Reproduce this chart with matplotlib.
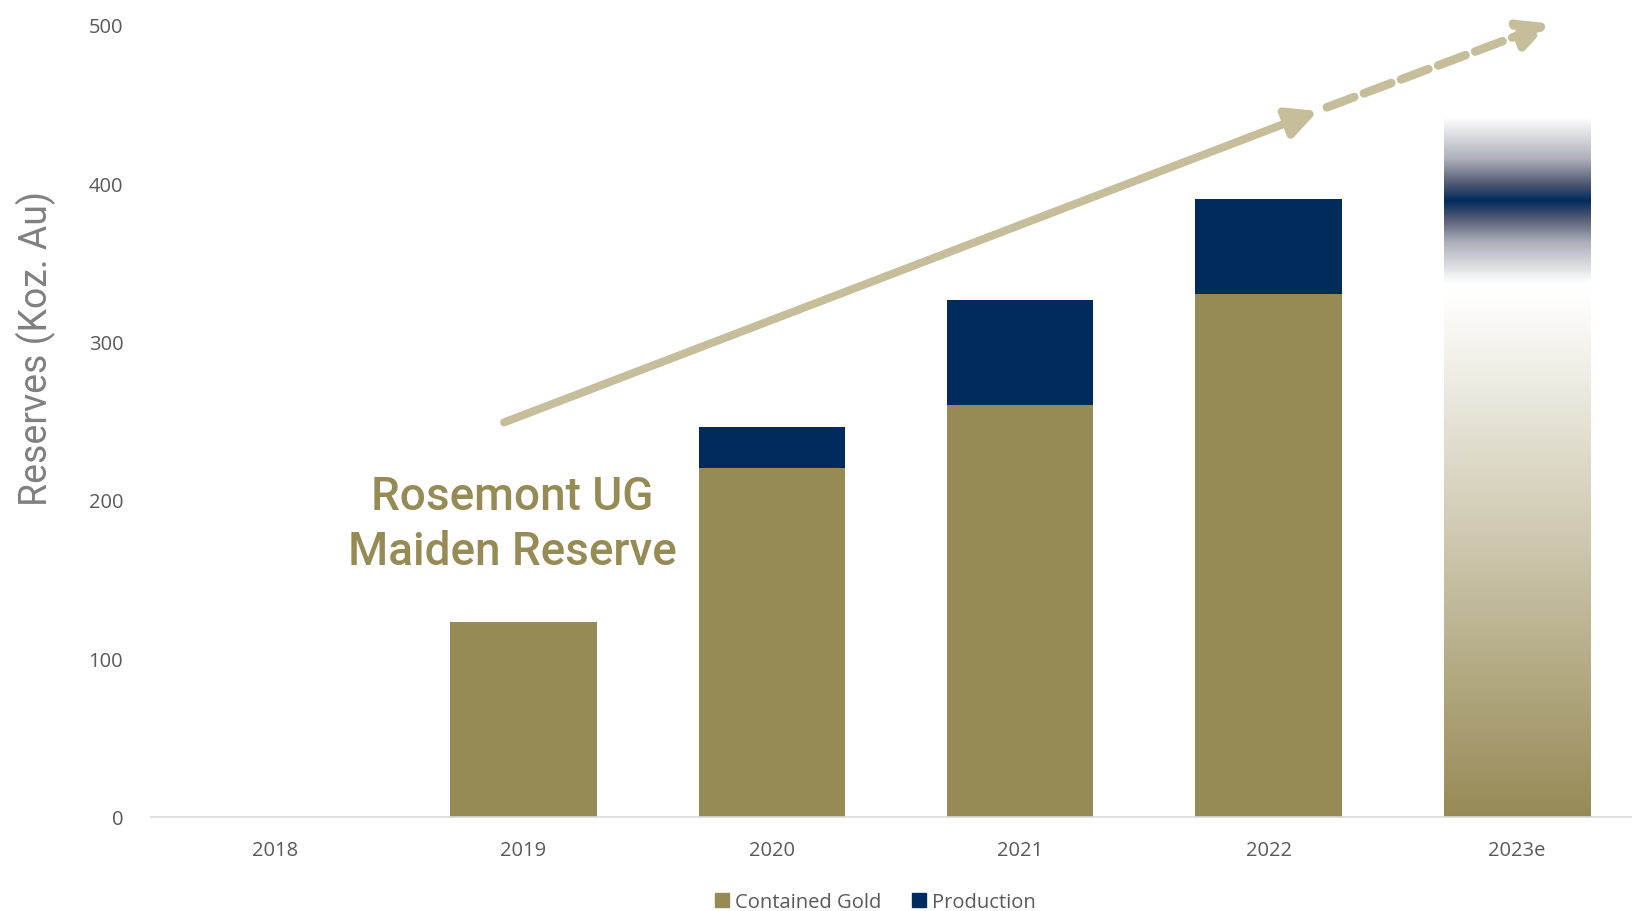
import numpy as np
import matplotlib.pyplot as plt
from matplotlib.colors import to_rgb
from matplotlib.patches import Patch

# data (Koz Au)
years = ['2018', '2019', '2020', '2021', '2022', '2023e']
contained_gold = [0, 123, 220, 260, 330]
production = [0, 0, 26, 66, 60]
estimate_top = 441      # top of the faded 2023e bar
estimate_band = 389     # where the navy band peaks

GOLD = '#968A55'
NAVY = '#002B5C'
ARROW = '#C6BE9A'
GREY = '#595959'

plt.rcParams['font.family'] = ['Open Sans', 'DejaVu Sans']

fig = plt.figure(figsize=(16.33, 9.12), dpi=100)
ax = fig.add_axes([0.0925, 0.1035, 0.9124, 0.868])

x = np.arange(len(years))
w = 0.59
n = len(contained_gold)
ax.bar(x[:n], contained_gold, width=w, color=GOLD, zorder=2)
ax.bar(x[:n], production, width=w, bottom=contained_gold, color=NAVY, zorder=2)

# gradient bar for the estimate: gold fading up to white, then a soft navy band
v = np.linspace(0, estimate_top, 900)
b = estimate_band
stops = [0, b - 58, b - 52, b - 26, b - 10, b, b + 10, b + 26, estimate_top]
cols = np.array([to_rgb(GOLD), (1, 1, 1), (1, 1, 1),
                 (172 / 255, 174 / 255, 184 / 255), (75 / 255, 85 / 255, 112 / 255),
                 to_rgb(NAVY),
                 (75 / 255, 85 / 255, 112 / 255), (172 / 255, 174 / 255, 184 / 255),
                 (0.99, 0.99, 0.99)])
rgb = np.stack([np.interp(v, stops, cols[:, k]) for k in range(3)], axis=1)
img = np.repeat(rgb[:, None, :], 2, axis=1)
xe = x[-1]
ax.imshow(img, origin='lower', aspect='auto', interpolation='bilinear',
          extent=[xe - w / 2, xe + w / 2, 0, estimate_top], zorder=2)

ax.set_xlim(-0.5, 5.5)
ax.set_ylim(0, 500)
ax.set_xticks(x)
ax.set_xticklabels(years)
ax.set_yticks(range(0, 501, 100))
ax.tick_params(length=0, labelsize=14.5, labelcolor=GREY)
ax.tick_params(axis='x', pad=17)
ax.tick_params(axis='y', pad=20)
for s in ['top', 'right', 'left']:
    ax.spines[s].set_visible(False)
ax.spines['bottom'].set_color('#D9D9D9')
ax.spines['bottom'].set_linewidth(1.2)

# trend arrows
ax.annotate('', xy=(4.199, 445.7), xytext=(0.922, 249), annotation_clip=False,
            arrowprops=dict(arrowstyle='-|>,head_length=0.9,head_width=0.45',
                            mutation_scale=20, lw=5.8, color=ARROW,
                            shrinkA=0, shrinkB=0))
ax.annotate('', xy=(5.133, 501), xytext=(4.235, 448), annotation_clip=False,
            arrowprops=dict(arrowstyle='-|>,head_length=0.9,head_width=0.45',
                            mutation_scale=20, lw=6.2, color=ARROW,
                            linestyle=(0, (3.4, 1.2)),
                            shrinkA=0, shrinkB=0))

ax.text(0.954, 185, 'Rosemont UG\nMaiden Reserve', ha='center', va='center',
        fontsize=33, color=GOLD, family=['Roboto', 'DejaVu Sans'],
        fontweight='medium', linespacing=1.33)

fig.text(36 / 1633, 1 - 349 / 912, 'Reserves (Koz. Au)', rotation=90,
         ha='center', va='center', fontsize=27, color='#808080',
         family=['Roboto', 'DejaVu Sans'])

handles = [Patch(color=GOLD, label='Contained Gold'),
           Patch(color=NAVY, label='Production')]
fig.legend(handles=handles, loc='center', bbox_to_anchor=(0.536, 0.010),
           ncol=2, frameon=False, fontsize=14.5, labelcolor=GREY,
           handlelength=0.7, handleheight=0.7, handletextpad=0.3,
           columnspacing=1.5)

fig.savefig('out.png', dpi=100)
